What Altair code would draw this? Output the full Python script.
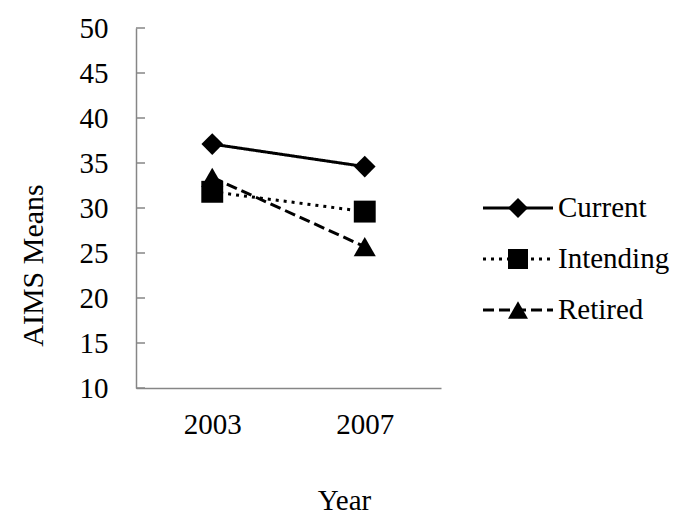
import altair as alt
import pandas as pd

years = ["2003", "2007"]
groups = ["Current", "Intending", "Retired"]
current = [37.1, 34.6]
intending = [31.8, 29.6]
retired = [33.4, 25.7]
y_ticks = [10, 15, 20, 25, 30, 35, 40, 45, 50]

FONT = "Liberation Serif"
FS = 29
GRAY = "#868686"

rows = []
for g, vals in zip(groups, [current, intending, retired]):
    for yr, v in zip(years, vals):
        rows.append({"Group": g, "Year": yr, "Mean": v})
df = pd.DataFrame(rows)

ticks_df = pd.DataFrame({"Mean": y_ticks})

shape_scale = alt.Scale(domain=groups, range=["diamond", "square", "triangle-up"])
dash_scale = alt.Scale(domain=groups, range=[[1, 0], [3, 5], [11, 5]])

x_scale = alt.Scale(type="point", padding=0.5)
x_axis = alt.Axis(
    title="Year", ticks=False, domainColor=GRAY, domainWidth=1.5,
    labelAngle=0, labelFont=FONT, labelFontSize=FS, labelColor="black",
    labelPadding=22, titleFont=FONT, titleFontSize=FS, titleFontWeight="normal",
    titleColor="black", titleX=208, titleY=112, titleBaseline="middle",
    titleAlign="center", grid=False,
)
y_scale = alt.Scale(domain=[10, 50], nice=False, zero=False)
y_axis = alt.Axis(
    title="AIMS Means", values=y_ticks, ticks=False, tickSize=0,
    domainColor=GRAY, domainWidth=1.5, labelFont=FONT, labelFontSize=FS,
    labelColor="black", labelPadding=28, titleFont=FONT, titleFontSize=30,
    titleFontWeight="normal", titleColor="black", titleAngle=-90,
    titleX=-103, titleY=237, titleAlign="center", titleBaseline="middle",
    grid=False,
)

x_enc = alt.X("Year:O", sort=years, scale=x_scale, axis=x_axis)
y_enc = alt.Y("Mean:Q", scale=y_scale, axis=y_axis)

tick_rules = alt.Chart(ticks_df).mark_rule(color=GRAY, strokeWidth=1.5).encode(
    y=y_enc,
    x=alt.value(0),
    x2=alt.value(9),
)

lines = alt.Chart(df).mark_line(color="black", strokeWidth=3).encode(
    x=x_enc,
    y=y_enc,
    strokeDash=alt.StrokeDash("Group:N", scale=dash_scale, legend=None),
    detail="Group:N",
)
points = alt.Chart(df).mark_point(filled=True, color="black", opacity=1).encode(
    x=x_enc,
    y=y_enc,
    shape=alt.Shape("Group:N", scale=shape_scale, legend=None),
    size=alt.Size("Group:N", scale=alt.Scale(domain=groups, range=[470, 490, 540]), legend=None),
)

# Custom legend, drawn through its own scales
leg_lines = pd.DataFrame(
    [{"Group": g, "lx": v} for g in groups for v in (0.0, 1.0)]
)
leg_pts = pd.DataFrame([{"Group": g, "lx": 0.5} for g in groups])
leg_txt = pd.DataFrame([{"Group": g, "lx": 1.0} for g in groups])

lx_scale = alt.Scale(domain=[0, 1], range=[347, 417])
ly_scale = alt.Scale(type="point", domain=groups, range=[180, 282], padding=0)

leg_l = alt.Chart(leg_lines).mark_line(color="black", strokeWidth=3).encode(
    x=alt.X("lx:Q", scale=lx_scale, axis=None),
    y=alt.Y("Group:N", scale=ly_scale, axis=None),
    strokeDash=alt.StrokeDash("Group:N", scale=dash_scale, legend=None),
    detail="Group:N",
)
leg_p = alt.Chart(leg_pts).mark_point(filled=True, color="black", opacity=1).encode(
    x=alt.X("lx:Q", scale=lx_scale, axis=None),
    y=alt.Y("Group:N", scale=ly_scale, axis=None),
    shape=alt.Shape("Group:N", scale=shape_scale, legend=None),
    size=alt.Size("Group:N", scale=alt.Scale(domain=groups, range=[400, 400, 460]), legend=None),
)
leg_t = alt.Chart(leg_txt).mark_text(
    align="left", baseline="middle", dx=5, font=FONT, fontSize=FS, color="black"
).encode(
    x=alt.X("lx:Q", scale=lx_scale, axis=None),
    y=alt.Y("Group:N", scale=ly_scale, axis=None),
    text="Group:N",
)

main = alt.layer(lines, points, tick_rules)
legend = alt.layer(leg_l, leg_p, leg_t)

chart = alt.layer(main, legend).resolve_scale(
    x="independent", y="independent", shape="independent", size="independent",
    strokeDash="independent",
).properties(
    width=305, height=360,
    background="white",
    autosize=alt.AutoSizeParams(type="none"),
    padding={"left": 128, "top": 20, "right": 233, "bottom": 126},
).configure_view(strokeWidth=0, stroke="transparent")

chart.save("out.html", embed_options={"renderer": "svg", "actions": False})
